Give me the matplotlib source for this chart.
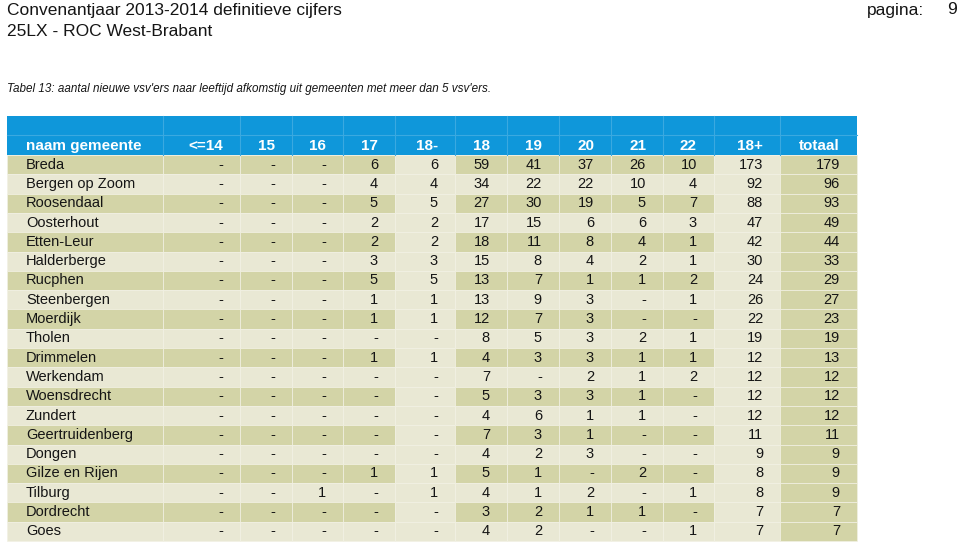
import matplotlib
matplotlib.use("Agg")
import matplotlib.pyplot as plt
from matplotlib.patches import Rectangle

plt.rcParams['font.family'] = ['Liberation Sans', 'DejaVu Sans']

# data ("-" stored as None)
gemeenten = ['Breda', 'Bergen op Zoom', 'Roosendaal', 'Oosterhout', 'Etten-Leur',
             'Halderberge', 'Rucphen', 'Steenbergen', 'Moerdijk', 'Tholen',
             'Drimmelen', 'Werkendam', 'Woensdrecht', 'Zundert', 'Geertruidenberg',
             'Dongen', 'Gilze en Rijen', 'Tilburg', 'Dordrecht', 'Goes']
headers = ['naam gemeente', '<=14', '15', '16', '17', '18-', '18', '19', '20',
           '21', '22', '18+', 'totaal']
n = None
leeftijd_14 = [n] * 20
leeftijd_15 = [n] * 20
leeftijd_16 = [n, n, n, n, n, n, n, n, n, n, n, n, n, n, n, n, n, 1, n, n]
leeftijd_17 = [6, 4, 5, 2, 2, 3, 5, 1, 1, n, 1, n, n, n, n, n, 1, n, n, n]
leeftijd_18min = [6, 4, 5, 2, 2, 3, 5, 1, 1, n, 1, n, n, n, n, n, 1, 1, n, n]
leeftijd_18 = [59, 34, 27, 17, 18, 15, 13, 13, 12, 8, 4, 7, 5, 4, 7, 4, 5, 4, 3, 4]
leeftijd_19 = [41, 22, 30, 15, 11, 8, 7, 9, 7, 5, 3, n, 3, 6, 3, 2, 1, 1, 2, 2]
leeftijd_20 = [37, 22, 19, 6, 8, 4, 1, 3, 3, 3, 3, 2, 3, 1, 1, 3, n, 2, 1, n]
leeftijd_21 = [26, 10, 5, 6, 4, 2, 1, n, n, 2, 1, 1, 1, 1, n, n, 2, n, 1, n]
leeftijd_22 = [10, 4, 7, 3, 1, 1, 2, 1, n, 1, 1, 2, n, n, n, n, n, 1, n, 1]
leeftijd_18plus = [173, 92, 88, 47, 42, 30, 24, 26, 22, 19, 12, 12, 12, 12, 11, 9, 8, 8, 7, 7]
totaal = [179, 96, 93, 49, 44, 33, 29, 27, 23, 19, 13, 12, 12, 12, 11, 9, 9, 9, 7, 7]

kolommen = [leeftijd_14, leeftijd_15, leeftijd_16, leeftijd_17, leeftijd_18min,
            leeftijd_18, leeftijd_19, leeftijd_20, leeftijd_21, leeftijd_22,
            leeftijd_18plus, totaal]

# layout (pixels)
col_edges = [7, 163, 240, 292, 343, 395, 455, 507, 559, 611, 663, 714, 780, 857]
head_top, head_bot = 116, 155
row_h = 19.3
pad = 17

blue = '#0f97da'
dark = '#d3d4a7'
light = '#e9e8d4'
grid = '#f2f1e4'
ink = '#151515'

fig = plt.figure(figsize=(9.6, 5.43), dpi=100)
ax = fig.add_axes([0, 0, 1, 1])
ax.set_xlim(0, 960)
ax.set_ylim(543, 0)
ax.axis('off')

# titles
ax.text(7, 10, 'Convenantjaar 2013-2014 definitieve cijfers', fontsize=12.5,
        va='center', ha='left', color=ink)
ax.text(7, 31, '25LX - ROC West-Brabant', fontsize=12.5, va='center', ha='left', color=ink)
ax.text(896, 10, 'pagina:', fontsize=12.5, va='center', ha='center', color=ink)
ax.text(957, 10, '9', fontsize=12.5, va='center', ha='right', color=ink)
ax.text(7, 89, "Tabel 13: aantal nieuwe vsv'ers naar leeftijd afkomstig uit gemeenten met meer dan 5 vsv'ers.",
        fontsize=8.4, style='italic', va='center', ha='left', color=ink)

# header
ax.add_patch(Rectangle((col_edges[0], head_top), col_edges[-1] - col_edges[0],
                       head_bot - head_top, facecolor=blue, edgecolor='none'))
ax.plot([col_edges[0], col_edges[-1]], [135, 135], color='#3aa9e0', lw=0.8)
for x in col_edges[1:-1]:
    ax.plot([x, x], [head_top, head_bot], color='#3aa9e0', lw=0.8)
for j, h in enumerate(headers):
    if j == 0:
        ax.text(col_edges[0] + 19, 146, h, color='white', fontweight='bold',
                fontsize=11, va='center', ha='left')
    else:
        ax.text(col_edges[j + 1] - pad, 146, h, color='white', fontweight='bold',
                fontsize=11, va='center', ha='right')

# body
for i, naam in enumerate(gemeenten):
    y0 = head_bot + i * row_h
    yc = y0 + row_h / 2
    for j in range(len(col_edges) - 1):
        if headers[j] in ('18-', '18+'):
            fc = light
        elif headers[j] == 'totaal':
            fc = dark
        else:
            fc = dark if i % 2 == 0 else light
        ax.add_patch(Rectangle((col_edges[j], y0), col_edges[j + 1] - col_edges[j],
                               row_h, facecolor=fc, edgecolor=grid, lw=0.5))
    ax.text(col_edges[0] + 19, yc, naam, fontsize=10.5, va='center', ha='left',
            color=ink)
    for j, kol in enumerate(kolommen):
        v = kol[i]
        s = '-' if v is None else str(v)
        ax.text(col_edges[j + 2] - pad, yc, s, fontsize=10.5, va='center',
                ha='right', color=ink)

fig.savefig('out.png', dpi=100)
